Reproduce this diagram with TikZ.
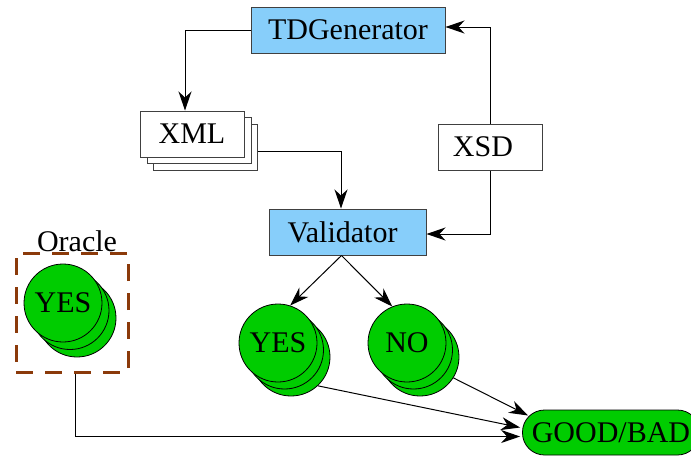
\documentclass[tikz,border=0pt]{standalone}
\usepackage{fontspec}
\setmainfont{Liberation Serif}
\usetikzlibrary{arrows.meta}
\definecolor{boxblue}{HTML}{87CEFA}
\definecolor{nodegreen}{HTML}{00CC00}
\definecolor{oraclebrown}{HTML}{8B3A0A}
\begin{document}
\begin{tikzpicture}[x=1pt,y=-1pt,
  font=\fontsize{30}{32}\selectfont,
  arr/.style={-{Stealth[length=19pt,width=13pt,inset=6pt]}, line width=1pt},
  bluebox/.style={draw=black!75, fill=boxblue, rectangle, inner sep=0pt, line width=1pt, minimum height=46pt},
  whitebox/.style={draw=black!75, fill=white, rectangle, inner sep=0pt, line width=1pt, minimum width=104pt, minimum height=46pt},
  circ/.style={circle, draw=black, fill=nodegreen, minimum size=78pt, inner sep=0pt, line width=0.8pt},
  goodbox/.style={draw=black, fill=nodegreen, rectangle, rounded corners=22pt, minimum width=177pt, minimum height=45pt, inner sep=0pt, line width=0.8pt},
  oraclebox/.style={draw=oraclebrown, line width=3pt, dash pattern=on 17pt off 12pt, rectangle, minimum width=112pt, minimum height=119pt, inner sep=0pt}]
\useasboundingbox (0,0) rectangle (691,456);

% top boxes
\node[bluebox, minimum width=194pt] (tdg) at (348,30) {TDGenerator};
\node[whitebox] (xml3) at (205,147) {};
\node[whitebox] (xml2) at (199,140.5) {};
\node[whitebox] (xml1) at (192,134) {XML};
\node[whitebox] (xsd) at (490,147) {\hspace*{-14pt}XSD};
\node[bluebox, minimum width=157pt] (val) at (347.5,232) {\hspace*{-10pt}Validator};

% oracle
\node[oraclebox] (oracle) at (72,312.5) {};
\node[anchor=south, inner sep=0pt] (oraclelabel) at (77,252) {Oracle};
\node[circ] (oy3) at (77,318) {};
\node[circ] (oy2) at (70,310.5) {};
\node[circ] (oy1) at (63,303) {YES};

% validator results
\node[circ] (vy3) at (291,357) {};
\node[circ] (vy2) at (284.5,350) {};
\node[circ] (vyes) at (278,343) {YES};
\node[circ] (vn3) at (420,357) {};
\node[circ] (vn2) at (413.5,350) {};
\node[circ] (vno) at (407,343) {NO};

% result
\node[goodbox] (good) at (611,432.5) {GOOD/BAD};

% connectors
\draw[arr] (tdg.west) -| ([xshift=-7pt]xml1.north);
\draw[arr] ([yshift=-4pt]xml3.east) -| ([xshift=-6.5pt]val.north);
\draw[arr] (xsd.north) |- ([yshift=3pt]tdg.east);
\draw[arr] (xsd.south) |- ([yshift=-2pt]val.east);
\draw[arr] ([xshift=-6pt]val.south) -- (vyes.72);
\draw[arr] ([xshift=-6pt]val.south) -- (vno.112);
\draw[arr] (vy3.-47) -- ([xshift=-2pt,yshift=5pt]good.west);
\draw[arr] (vn3.-32) -- ([xshift=6pt,yshift=17pt]good.west);
\draw[arr] ([xshift=3pt]oracle.south) |- ([xshift=-2pt,yshift=-4pt]good.west);
\end{tikzpicture}
\end{document}
